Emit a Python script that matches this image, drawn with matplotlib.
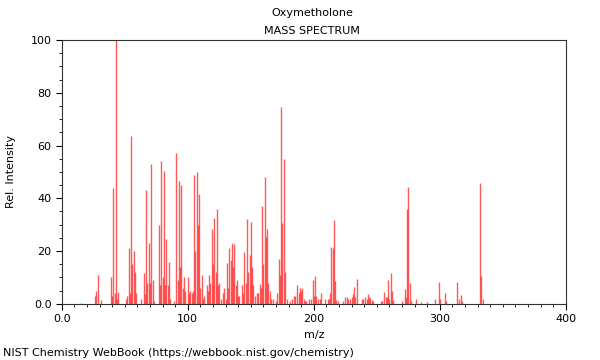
import numpy as np
import matplotlib
matplotlib.use('Agg')
import matplotlib.pyplot as plt
from matplotlib.ticker import MultipleLocator, FixedLocator

# peaks (m/z, relative intensity)
mz = [15, 26, 27, 29, 31, 39, 40, 41, 42, 43, 44, 45, 51, 52, 53, 54, 55, 56, 57, 58, 59,
      63, 65, 66, 67, 68, 69, 70, 71, 72, 73, 77, 78, 79, 80, 81, 82, 83, 84, 85, 86,
      89, 91, 92, 93, 94, 95, 96, 97, 98, 100, 101, 102, 103, 104, 105, 106, 107, 108,
      109, 110, 111, 112, 113, 115, 116, 117, 118, 119, 120, 121, 122, 123, 124, 125,
      126, 128, 129, 130, 131, 132, 133, 134, 135, 136, 137, 138, 139, 140, 141, 143,
      144, 145, 146, 147, 148, 149, 150, 151, 152, 153, 155, 156, 157, 158, 159, 160,
      161, 162, 163, 164, 165, 166, 168, 170, 171, 172, 173, 174, 175, 176, 177, 179,
      181, 183, 184, 185, 187, 188, 189, 190, 191, 192, 193, 194, 196, 198, 199, 200,
      201, 202, 203, 205, 206, 209, 211, 212, 213, 214, 215, 216, 217, 218, 219, 223,
      225, 226, 227, 229, 230, 231, 232, 233, 234, 238, 239, 241, 242, 243, 244, 245,
      246, 247, 253, 254, 256, 257, 258, 259, 260, 261, 262, 263, 270, 272, 273, 274,
      275, 276, 277, 281, 285, 290, 296, 299, 300, 304, 305, 314, 315, 317, 318, 332,
      333, 334]
intensity = [0.5, 3, 5, 11, 1.5, 10, 3, 44, 4, 100, 2, 4.3, 2, 3, 21, 4, 63.5, 15, 20, 12, 4,
             2, 11.5, 3.8, 43, 8, 23, 8, 53, 9, 1, 30, 7, 54, 10, 50.5, 7, 24.5, 7, 16, 2,
             1, 57, 9, 46.5, 14, 45, 6, 10, 5, 10, 4, 5, 4, 5, 49, 20, 50, 30,
             41.5, 6, 11, 2, 3, 7, 5, 11, 8, 28.5, 15, 32.5, 12, 35.8, 7, 8,
             2, 4, 6, 2, 15.5, 6, 21, 16.5, 23, 14, 22.5, 7, 9, 3, 3, 7,
             4, 19.5, 8, 32, 12, 18.5, 31, 14, 7, 3, 4, 4, 7.6, 6, 37, 15,
             48, 25.5, 28.5, 8, 5, 2, 2, 1, 4, 17, 11, 74.5, 30.8, 55, 12, 2,
             1, 2, 3, 3, 7, 4, 6, 5, 6, 2, 1, 1, 2, 2, 9, 3,
             10.5, 3, 2, 2, 4, 2, 2, 2, 4, 21.5, 21, 31.8, 8.7, 1.5, 1, 1,
             2.5, 2.7, 2, 2, 2.5, 3.9, 6.2, 2.7, 9.3, 1.8, 2, 2.5, 2, 3.7, 2.7, 2.2,
             1.6, 1, 1, 1, 4.3, 2.7, 2.5, 9.2, 2, 11.6, 4.7, 1.3, 1, 5.7, 2.5, 35.9,
             44.2, 7.8, 1, 2, 0.8, 0.8, 2, 8.3, 2, 4, 1, 8.2, 2, 3.3, 1, 45.7,
             10.4, 2]

fig = plt.figure(figsize=(6, 3.6), dpi=100)
ax = fig.add_axes([0.103, 0.156, 0.84, 0.733])

ax.vlines(mz, 0, intensity, colors='#ff3030', linewidth=1.0, alpha=0.8)

ax.set_xlim(0, 400)
ax.set_ylim(0, 100)
ax.xaxis.set_major_locator(FixedLocator([0, 100, 200, 300, 400]))
ax.set_xticklabels(['0.0', '100', '200', '300', '400'])
ax.xaxis.set_minor_locator(MultipleLocator(10))
ax.yaxis.set_major_locator(FixedLocator([0, 20, 40, 60, 80, 100]))
ax.set_yticklabels(['0.0', '20', '40', '60', '80', '100'])
ax.yaxis.set_minor_locator(MultipleLocator(5))
ax.tick_params(labelsize=8, length=4, width=0.8)
ax.tick_params(which='minor', length=2, width=0.6)
for s in ax.spines.values():
    s.set_linewidth(0.8)
    s.set_color('#333333')

ax.set_xlabel('m/z', fontsize=8)
ax.set_ylabel('Rel. Intensity', fontsize=8, labelpad=10)

fig.text(0.52, 0.963, 'Oxymetholone', ha='center', va='center', fontsize=8)
fig.text(0.52, 0.915, 'MASS SPECTRUM', ha='center', va='center', fontsize=8)
fig.text(0.005, 0.02, 'NIST Chemistry WebBook (https://webbook.nist.gov/chemistry)',
         ha='left', va='center', fontsize=8)

fig.savefig('out.png', dpi=100)
